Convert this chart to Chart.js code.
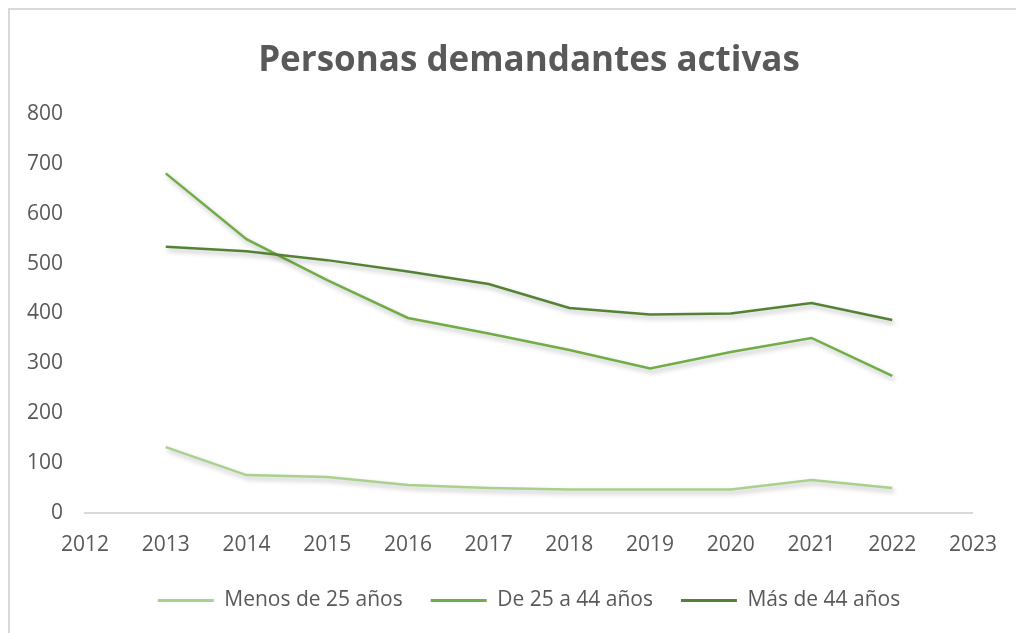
<!DOCTYPE html>
<html>
<head>
<meta charset="utf-8">
<script src="https://cdn.jsdelivr.net/npm/chart.js@4/dist/chart.umd.min.js"></script>
<style>
    html, body { margin: 0; padding: 0; background: #fff; overflow: hidden; }
    #frame {
        position: absolute; left: 8px; top: 8px; width: 1100px; height: 700px;
        border: 2px solid #d9d9d9;
    }
    #wrap { position: absolute; left: 0; top: 0; width: 1016px; height: 633px; }
</style>
</head>
<body>
<div id="frame"></div>
<div id="wrap"><canvas id="chart" width="1016" height="633"></canvas></div>
<script>
// chart data
const years = [2013, 2014, 2015, 2016, 2017, 2018, 2019, 2020, 2021, 2022];
const menos25 = [132, 76, 72, 56, 50, 47, 47, 47, 66, 50];
const de25a44 = [681, 549, 467, 391, 360, 327, 290, 323, 351, 275];
const mas44 = [534, 525, 507, 484, 459, 411, 398, 400, 421, 387];
const seriesNames = ['Menos de 25 años', 'De 25 a 44 años', 'Más de 44 años'];
const seriesColors = ['#a9d18e', '#70ad47', '#548235'];
const chartTitle = 'Personas demandantes activas';

const textColor = '#595959';
const fontFamily = '"Open Sans", sans-serif';

function toPoints(values) {
    return values.map((v, i) => ({ x: years[i], y: v }));
}

// soft shadow under the lines, like the office chart
const shadowPlugin = {
    id: 'lineShadow',
    beforeDatasetsDraw(chart) {
        const ctx = chart.ctx;
        ctx.save();
        ctx.shadowColor = 'rgba(0, 0, 0, 0.28)';
        ctx.shadowBlur = 5;
        ctx.shadowOffsetX = 2;
        ctx.shadowOffsetY = 3;
    },
    afterDatasetsDraw(chart) {
        chart.ctx.restore();
    }
};

const datasets = [menos25, de25a44, mas44].map((values, i) => ({
    label: seriesNames[i],
    data: toPoints(values),
    borderColor: seriesColors[i],
    backgroundColor: seriesColors[i],
    borderWidth: 2.5,
    pointRadius: 0,
    tension: 0,
    order: 3 - i // later series drawn on top
}));

new Chart(document.getElementById('chart').getContext('2d'), {
    type: 'line',
    data: { datasets: datasets },
    options: {
        responsive: false,
        animation: false,
        layout: { padding: { left: 0, right: 41, top: 0, bottom: 12 } },
        plugins: {
            title: {
                display: true,
                fullSize: false,
                text: chartTitle,
                color: textColor,
                font: { family: fontFamily, size: 35, weight: 'bold' },
                padding: { top: 40, bottom: 32 }
            },
            legend: {
                position: 'bottom',
                fullSize: false,
                labels: {
                    color: textColor,
                    font: { family: fontFamily, size: 21 },
                    boxWidth: 56,
                    boxHeight: 3,
                    padding: 28,
                    sort: (a, b) => a.datasetIndex - b.datasetIndex,
                    generateLabels(chart) {
                        const items = Chart.defaults.plugins.legend.labels.generateLabels(chart);
                        items.forEach(item => {
                            item.fillStyle = item.strokeStyle;
                            item.lineWidth = 0;
                        });
                        return items;
                    }
                }
            },
            tooltip: { enabled: false }
        },
        scales: {
            x: {
                type: 'linear',
                min: 2012,
                max: 2023,
                grid: { display: false, drawTicks: false },
                border: { display: true, color: '#d9d9d9', width: 2 },
                ticks: {
                    stepSize: 1,
                    color: textColor,
                    font: { family: fontFamily, size: 21 },
                    padding: 19,
                    maxRotation: 0,
                    callback: v => String(v)
                },
                afterFit(scale) { scale.height = 49; }
            },
            y: {
                min: 0,
                max: 800,
                grid: { display: false, drawTicks: false },
                border: { display: false },
                ticks: {
                    stepSize: 100,
                    color: textColor,
                    font: { family: fontFamily, size: 21 },
                    padding: 22
                },
                afterFit(scale) { scale.width = 85; }
            }
        }
    },
    plugins: [shadowPlugin]
});
</script>
</body>
</html>
